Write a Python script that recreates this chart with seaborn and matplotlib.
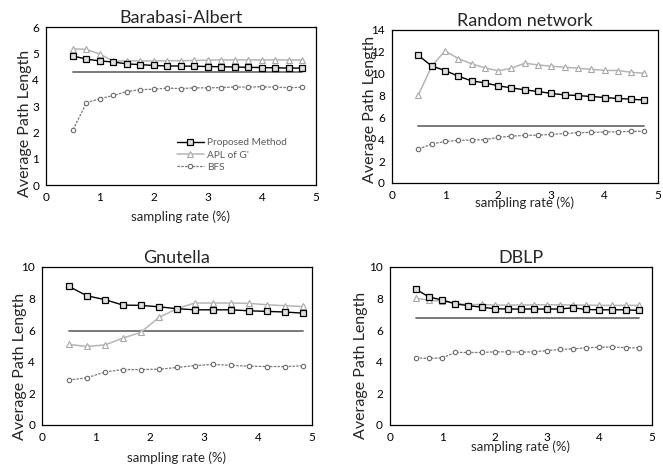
import matplotlib
matplotlib.use("Agg")
import matplotlib.pyplot as plt
import seaborn as sns

# --- dados ---
x_18 = [0.5, 0.75, 1.0, 1.25, 1.5, 1.75, 2.0, 2.25, 2.5, 2.75,
        3.0, 3.25, 3.5, 3.75, 4.0, 4.25, 4.5, 4.75]
x_14 = [0.5, 0.83, 1.17, 1.5, 1.83, 2.17, 2.5, 2.83, 3.17, 3.5,
        3.83, 4.17, 4.5, 4.83]

ba_proposed = [4.9, 4.78, 4.71, 4.67, 4.6, 4.57, 4.54, 4.52, 4.52, 4.51,
               4.5, 4.49, 4.48, 4.47, 4.46, 4.45, 4.44, 4.44]
ba_apl = [5.17, 5.15, 4.97, 4.7, 4.72, 4.71, 4.71, 4.72, 4.72, 4.73,
          4.74, 4.75, 4.75, 4.75, 4.75, 4.75, 4.75, 4.75]
ba_bfs = [2.1, 3.12, 3.28, 3.4, 3.55, 3.62, 3.64, 3.68, 3.66, 3.69,
          3.69, 3.7, 3.72, 3.72, 3.73, 3.71, 3.7, 3.71]
ba_true = 4.3

rn_proposed = [11.67, 10.7, 10.29, 9.77, 9.34, 9.16, 8.89, 8.7, 8.52, 8.37,
               8.19, 8.06, 8.0, 7.91, 7.82, 7.73, 7.67, 7.58]
rn_apl = [8.06, 10.7, 12.08, 11.38, 10.9, 10.53, 10.26, 10.5, 10.96, 10.8,
          10.68, 10.59, 10.5, 10.4, 10.3, 10.29, 10.13, 10.04]
rn_bfs = [3.1, 3.56, 3.8, 3.9, 3.93, 3.96, 4.17, 4.29, 4.35, 4.38,
          4.44, 4.53, 4.6, 4.63, 4.66, 4.69, 4.72, 4.72]
rn_true = 5.23

gn_proposed = [8.77, 8.18, 7.93, 7.59, 7.57, 7.48, 7.36, 7.29, 7.29, 7.29,
               7.23, 7.19, 7.15, 7.08]
gn_apl = [5.1, 4.97, 5.07, 5.5, 5.86, 6.81, 7.36, 7.72, 7.72, 7.72,
          7.7, 7.61, 7.55, 7.5]
gn_bfs = [2.85, 2.98, 3.36, 3.51, 3.51, 3.53, 3.64, 3.76, 3.83, 3.78,
          3.72, 3.7, 3.7, 3.74]
gn_true = 5.92

db_proposed = [8.58, 8.1, 7.91, 7.67, 7.55, 7.46, 7.36, 7.34, 7.34, 7.34,
               7.34, 7.34, 7.42, 7.31, 7.29, 7.29, 7.29, 7.25]
db_apl = [8.03, 7.89, 7.84, 7.7, 7.61, 7.63, 7.59, 7.59, 7.59, 7.61,
          7.61, 7.61, 7.59, 7.59, 7.57, 7.57, 7.57, 7.57]
db_bfs = [4.25, 4.21, 4.25, 4.59, 4.59, 4.59, 4.63, 4.63, 4.61, 4.63,
          4.71, 4.78, 4.82, 4.88, 4.93, 4.93, 4.9, 4.88]
db_true = 6.77

panels = [
    ("Barabasi-Albert", x_18, ba_proposed, ba_apl, ba_bfs, ba_true, 6, 1),
    ("Random network", x_18, rn_proposed, rn_apl, rn_bfs, rn_true, 14, 2),
    ("Gnutella", x_14, gn_proposed, gn_apl, gn_bfs, gn_true, 10, 2),
    ("DBLP", x_18, db_proposed, db_apl, db_bfs, db_true, 10, 2),
]

# posicoes dos eixos (fracao da figura) e das legendas dos eixos
axes_pos = [
    [0.0694, 0.6047, 0.407, 0.3376],
    [0.591, 0.609, 0.401, 0.327],
    [0.0633, 0.0919, 0.407, 0.3376],
    [0.588, 0.0919, 0.395, 0.3376],
]
ylab_coords = [(-0.052, 0.39), (-0.056, 0.48), (-0.056, 0.37), (-0.084, 0.38)]
xlab_coords = [(0.5, -0.16), (0.5, -0.085), (0.5, -0.17), (0.5, -0.10)]

sns.set_theme(style="white")
plt.rcParams['font.family'] = ['Lato', 'DejaVu Sans']

fig = plt.figure(figsize=(6.63, 4.68), dpi=100)

for i, (titulo, xs, prop, apl, bfs, real, ymax, ystep) in enumerate(panels):
    ax = fig.add_axes(axes_pos[i])

    # linha horizontal (APL real)
    sns.lineplot(x=[xs[0], xs[-1]], y=[real, real], ax=ax, color='#6e6e6e',
                 linewidth=1.3, legend=False)

    sns.lineplot(x=xs, y=apl, ax=ax, color='#b5b5b5', linewidth=1.1,
                 marker='^', markersize=4, markerfacecolor='white',
                 markeredgecolor='#a8a8a8', markeredgewidth=0.8,
                 label="APL of G'")
    sns.lineplot(x=xs, y=bfs, ax=ax, color='#7a7a7a', linewidth=0.9,
                 linestyle=(0, (2, 1)), marker='o', markersize=3.2,
                 markerfacecolor='white', markeredgecolor='#6a6a6a',
                 markeredgewidth=0.8, label='BFS')
    sns.lineplot(x=xs, y=prop, ax=ax, color='black', linewidth=1.0,
                 marker='s', markersize=3.8, markerfacecolor='#e0e0e0',
                 markeredgecolor='black', markeredgewidth=0.9,
                 label='Proposed Method')

    ax.set_xlim(0, 5)
    ax.set_ylim(0, ymax)
    ax.set_xticks(range(0, 6))
    ax.set_yticks(range(0, ymax + 1, ystep))
    ax.tick_params(axis='both', labelsize=8.5, length=3, width=0.8,
                   direction='out', colors='black', pad=2)
    for sp in ax.spines.values():
        sp.set_color('black')
        sp.set_linewidth(0.9)

    ax.set_title(titulo, fontsize=13, pad=3)
    ax.set_ylabel('Average Path Length', fontsize=11.5)
    ax.set_xlabel('sampling rate (%)', fontsize=9.5)
    ax.yaxis.set_label_coords(*ylab_coords[i])
    ax.xaxis.set_label_coords(*xlab_coords[i])

    if i == 0:
        handles, labels = ax.get_legend_handles_labels()
        ordem = [labels.index('Proposed Method'), labels.index("APL of G'"),
                 labels.index('BFS')]
        leg = ax.legend([handles[k] for k in ordem], [labels[k] for k in ordem],
                        loc='upper left', bbox_to_anchor=(0.46, 0.34),
                        frameon=False, fontsize=7.3, handlelength=2.6,
                        labelspacing=0.3, handletextpad=0.3, borderpad=0.2)
        for t in leg.get_texts():
            t.set_color('#595959')
    else:
        ax.get_legend().remove()

plt.savefig("out.png", dpi=100)
